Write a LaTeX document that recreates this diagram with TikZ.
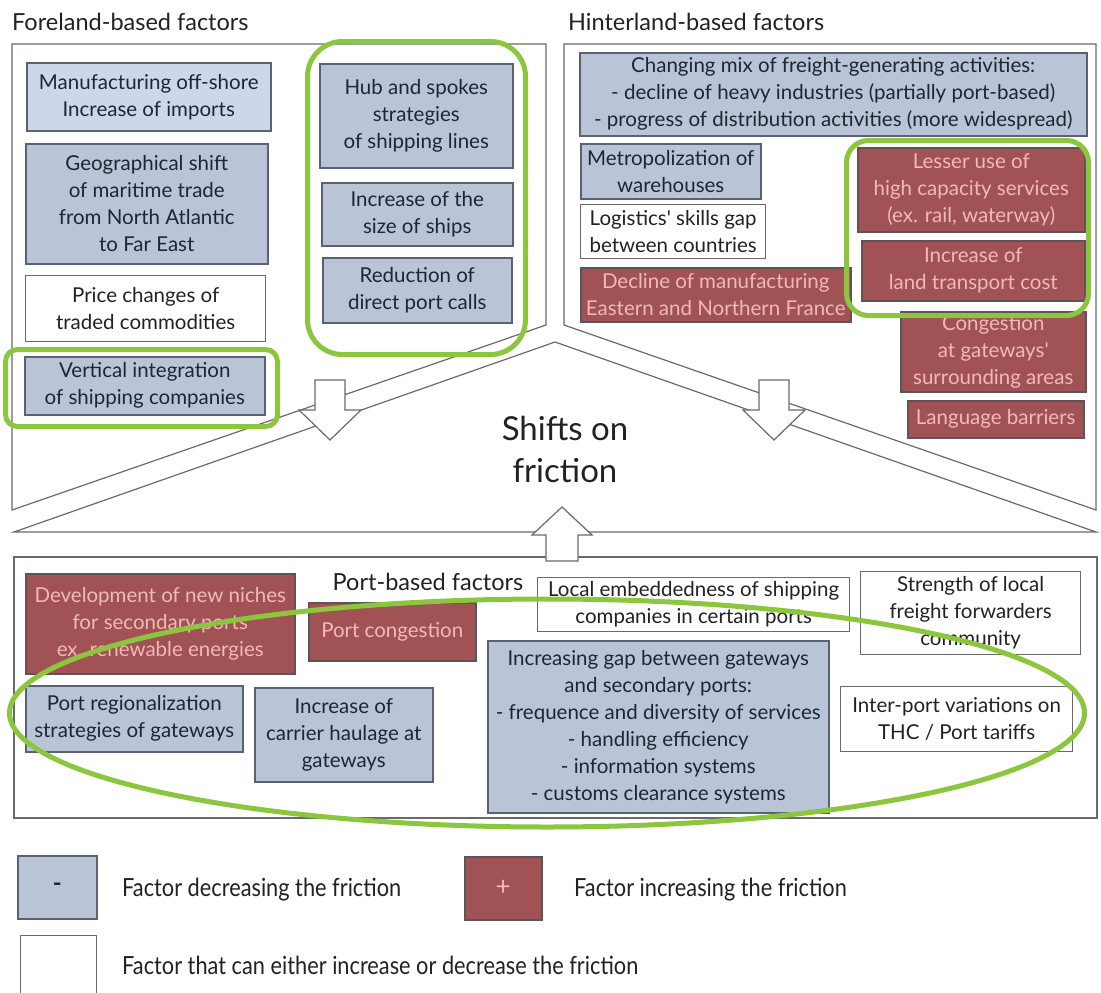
\documentclass[tikz,border=0pt]{standalone}
\usepackage{fontspec}
\setmainfont{Lato}
\newfontfamily\legfont[FakeStretch=0.87]{Lato}
\usetikzlibrary{shapes.geometric}
\definecolor{bluef}{HTML}{B9C5D7}
\definecolor{lbluef}{HTML}{CCD8EA}
\definecolor{blueb}{HTML}{596172}
\definecolor{bluet}{HTML}{1F2533}
\definecolor{redf}{HTML}{A05254}
\definecolor{redb}{HTML}{5E5456}
\definecolor{redt}{HTML}{F4B8B8}
\definecolor{whiteb}{HTML}{6A6A6A}
\definecolor{hl}{HTML}{8CC63F}
\definecolor{frame}{HTML}{6A6A6A}
\definecolor{txt}{HTML}{222222}
\begin{document}
\begin{tikzpicture}[x=1pt,y=-1pt,
  box/.style={anchor=north west, inner sep=0pt, align=center, font=\fontsize{20.5}{27}\selectfont, line width=1.5pt},
  bluebox/.style={box, fill=bluef, draw=blueb, text=bluet},
  lbluebox/.style={box, fill=lbluef, draw=blueb, text=bluet},
  redbox/.style={box, fill=redf, draw=redb, text=redt},
  whitebox/.style={box, fill=white, draw=whiteb, line width=1.3pt, text=txt},
  hlbox/.style={anchor=north west, inner sep=0pt, draw=hl, line width=5pt},
  panel/.style={draw=frame, line width=1.2pt},
  bigarrow/.style={draw=frame, line width=1.2pt, fill=white},
  title/.style={font=\fontsize{23.5}{26}\selectfont, text=txt, inner sep=0pt},
  legtext/.style={font=\legfont\fontsize{25}{28}\selectfont, text=txt, anchor=west, inner sep=0pt}
]
\useasboundingbox (0,0) rectangle (1101,993);
\fill[white] (0,0) rectangle (1101,993);

% frames
\draw[panel] (12,44) -- (546,44) -- (546,325) -- (12,510) -- cycle;
\draw[panel] (564,44) -- (1096,44) -- (1096,510) -- (564,325) -- cycle;
\draw[panel] (14,532) -- (555,342) -- (1096,532) -- cycle;
\draw[panel] (14,557) rectangle (1097,818);

% arrows
\draw[bigarrow] (315,380) -- (345,380) -- (345,410) -- (361,410) -- (330,440) -- (299,410) -- (315,410) -- cycle;
\draw[bigarrow] (759,380) -- (789,380) -- (789,410) -- (805,410) -- (774,440) -- (743,410) -- (759,410) -- cycle;
\draw[bigarrow] (546,561) -- (578,561) -- (578,535) -- (592,535) -- (562,507) -- (532,535) -- (546,535) -- cycle;

% titles
\node[title, anchor=west] (tfore) at (12,22) {Foreland-based factors};
\node[title, anchor=west] (thint) at (568,22) {Hinterland-based factors};
\node[title] (tport) at (428,582) {Port-based factors};
\node[font=\fontsize{33}{42}\selectfont, align=center, text=txt] (shift) at (565,449) {Shifts on\\friction};

% foreland
\node[lbluebox, minimum width=244pt, minimum height=68pt] (man) at (26,62) {Manufacturing off-shore\\Increase of imports};
\node[bluebox, minimum width=242pt, minimum height=120pt] (geo) at (25,143) {Geographical shift\\of maritime trade\\from North Atlantic\\to Far East};
\node[whitebox, minimum width=240pt, minimum height=66pt] (price) at (25,275) {Price changes of\\traded commodities};
\node[bluebox, minimum width=240pt, minimum height=58pt] (vert) at (24,356) {Vertical integration\\of shipping companies};
\node[bluebox, minimum width=193pt, minimum height=104pt] (hub) at (319,63) {Hub and spokes\\strategies\\of shipping lines};
\node[bluebox, minimum width=191pt, minimum height=63pt] (size) at (321,182) {Increase of the\\size of ships};
\node[bluebox, minimum width=189pt, minimum height=65pt] (calls) at (322,257) {Reduction of\\direct port calls};

% hinterland
\node[bluebox, minimum width=507pt, minimum height=83pt] (mix) at (579,52) {Changing mix of freight-generating activities:\\- decline of heavy industries (partially port-based)\\- progress of distribution activities (more widespread)};
\node[bluebox, minimum width=180pt, minimum height=55pt] (metro) at (580,143) {Metropolization of\\warehouses};
\node[whitebox, minimum width=185pt, minimum height=54pt] (skills) at (580,204) {Logistics\textquotesingle\ skills gap\\between countries};
\node[redbox, minimum width=270pt, minimum height=54pt] (decline) at (580,267) {Decline of manufacturing\\Eastern and Northern France};
\node[redbox, minimum width=227pt, minimum height=84pt] (lesser) at (857,147) {Lesser use of\\high capacity services\\(ex. rail, waterway)};
\node[redbox, minimum width=223pt, minimum height=60pt] (land) at (861,240) {Increase of\\land transport cost};
\node[redbox, minimum width=185pt, minimum height=80pt] (congest) at (900,311) {Congestion\\at gateways\textquotesingle\\surrounding areas};
\node[redbox, minimum width=176pt, minimum height=37pt] (lang) at (907,400) {Language barriers};

% port
\node[redbox, minimum width=269pt, minimum height=100pt] (niches) at (25,573) {Development of new niches\\for secondary ports\\ex. renewable energies};
\node[redbox, minimum width=167pt, minimum height=58pt] (portcong) at (308,602) {Port congestion};
\node[bluebox, minimum width=217pt, minimum height=66pt] (regio) at (25,685) {Port regionalization\\strategies of gateways};
\node[bluebox, minimum width=178pt, minimum height=94pt] (carrier) at (254,687) {Increase of\\carrier haulage at\\gateways};
\node[whitebox, minimum width=312pt, minimum height=54pt] (embed) at (537,577) {Local embeddedness of shipping\\companies in certain ports};
\node[whitebox, minimum width=220pt, minimum height=83pt] (strength) at (860,571) {Strength of local\\freight forwarders\\community};
\node[bluebox, minimum width=341pt, minimum height=172pt] (gap) at (487,640) {Increasing gap between gateways\\and secondary ports:\\- frequence and diversity of services\\- handling efficiency\\- information systems\\- customs clearance systems};
\node[whitebox, minimum width=232pt, minimum height=65pt] (thc) at (840,686) {Inter-port variations on\\THC / Port tariffs};

% highlights
\node[hlbox, rounded corners=12pt, minimum width=272pt, minimum height=77pt] (hl1) at (3,347) {};
\node[hlbox, rounded corners=35pt, minimum width=218pt, minimum height=313pt] (hl2) at (305,39) {};
\node[hlbox, rounded corners=22pt, minimum width=242pt, minimum height=175pt] (hl3) at (844,138) {};
\node[ellipse, draw=hl, line width=5pt, inner sep=0pt, minimum width=1075pt, minimum height=228pt] (hl4) at (547,713) {};

% legend
\node[bluebox, minimum width=79pt, minimum height=63pt, font=\bfseries\fontsize{24}{24}\selectfont] (lminus) at (17,855) {-};
\node[legtext] (lminust) at (122,890) {Factor decreasing the friction};
\node[redbox, minimum width=77pt, minimum height=63pt, font=\fontsize{26}{26}\selectfont] (lplus) at (464,856) {+};
\node[legtext] (lplust) at (574,890) {Factor increasing the friction};
\node[whitebox, minimum width=76pt, minimum height=64pt] (lwhite) at (20,935) {};
\node[legtext] (lwhitet) at (122,965) {Factor that can either increase or decrease the friction};
\end{tikzpicture}
\end{document}
